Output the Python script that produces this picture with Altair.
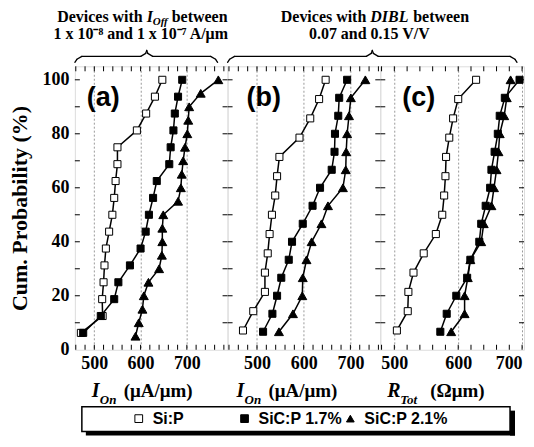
import altair as alt
import pandas as pd

SERIES = ["Si:P", "SiC:P 1.7%", "SiC:P 2.1%"]
SERIF = "Liberation Serif"
SANS = "Liberation Sans"

# cumulative probabilities (%)
P14 = [7.14, 14.29, 21.43, 28.57, 35.71, 42.86, 50.0, 57.14, 64.29, 71.43, 78.57, 85.71, 92.86, 100.0]
P15 = [6.67, 13.33, 20.0, 26.67, 33.33, 40.0, 46.67, 53.33, 60.0, 66.67, 73.33, 80.0, 86.67, 93.33, 100.0]
P16 = [6.25, 12.5, 18.75, 25.0, 31.25, 37.5, 43.75, 50.0, 56.25, 62.5, 68.75, 75.0, 81.25, 87.5, 93.75, 100.0]
P20 = [5, 10, 15, 20, 25, 30, 35, 40, 45, 50, 55, 60, 65, 70, 75, 80, 85, 90, 95, 100]

# panel (a): I_On, devices with I_Off in range
a_sip = [471, 518, 517, 520, 522, 525, 532, 539, 543, 546, 550, 550, 592, 612, 631, 647]
a_sic17 = [476, 514, 543, 552, 577, 600, 611, 618, 627, 635, 662, 665, 671, 674, 681, 690]
a_sic21 = [589, 596, 604, 607, 617, 640, 646, 647, 647, 649, 681, 687, 689, 692, 696, 701, 703, 705, 730, 768]

# panel (b): I_On, devices with DIBL in range
b_sip = [470, 492, 517, 517, 523, 527, 532, 539, 543, 548, 591, 614, 633, 647]
b_sic17 = [513, 533, 543, 552, 568, 575, 598, 619, 635, 660, 666, 667, 674, 676, 693]
b_sic21 = [547, 577, 597, 598, 606, 617, 638, 652, 684, 690, 691, 693, 697, 701, 732]

# panel (c): R_Tot, devices with DIBL in range
c_sip = [504, 521, 522, 530, 546, 565, 575, 578, 580, 581, 586, 592, 600, 628]
c_sic17 = [572, 582, 597, 614, 619, 633, 636, 643, 650, 652, 657, 662, 665, 673, 696]
c_sic21 = [589, 610, 610, 615, 619, 636, 640, 652, 656, 660, 663, 665, 672, 676, 682]

X_LABELS = [500, 600, 700]
Y_LABELS = [0, 20, 40, 60, 80, 100]
Y_TICKS = [10, 20, 30, 40, 50, 60, 70, 80, 90, 100]
A_TICKS = list(range(460, 781, 20))
B_TICKS = list(range(440, 761, 20))
C_TICKS = list(range(480, 701, 20))

H = 284
TL = 5
D = 3  # shift of elements below the plots


def frame(parts):
    rows = []
    for s, xs, ps in parts:
        for x, p in zip(xs, ps):
            rows.append({"x": x, "y": p, "s": s})
    return pd.DataFrame(rows)


ONE = pd.DataFrame({"k": [0]})


def txt(s, x, y, size, font=SERIF, style="normal", align="left", weight="bold"):
    return alt.Chart(pd.DataFrame({"t": [s]})).mark_text(
        align=align, baseline="alphabetic", font=font, fontSize=size,
        fontWeight=weight, fontStyle=style, color="black"
    ).encode(text="t:N", x=alt.value(x), y=alt.value(y))


def seg(x1, y1, x2, y2, w=1.3):
    return alt.Chart(ONE).mark_rule(color="black", strokeWidth=w, strokeCap="round").encode(
        x=alt.value(x1), y=alt.value(y1), x2=alt.value(x2), y2=alt.value(y2))


def strip(x1, x2, y1, y2):
    return alt.Chart(ONE).mark_rect(color="black").encode(
        x=alt.value(x1), x2=alt.value(x2), y=alt.value(y1), y2=alt.value(y2))


def brace(x0, x1, xm, ye=-4, yh=-10, yp=-16):
    return [
        seg(x0, ye, x0 + 2, yh + 3), seg(x0 + 2, yh + 3, x0 + 7, yh),
        seg(x0 + 7, yh, xm - 6, yh), seg(xm - 6, yh, xm - 1, yh - 3), seg(xm - 1, yh - 3, xm, yp),
        seg(xm, yp, xm + 1, yh - 3), seg(xm + 1, yh - 3, xm + 6, yh),
        seg(xm + 6, yh, x1 - 7, yh), seg(x1 - 7, yh, x1 - 2, yh + 3), seg(x1 - 2, yh + 3, x1, ye),
    ]


LEG = alt.Legend(
    title=None, orient="none", legendX=56, legendY=342 + D, direction="horizontal",
    columns=3, gridAlign="all", columnPadding=0, labelFont=SANS, labelFontSize=16,
    labelFontWeight="bold", labelColor="black", symbolSize=60, labelOffset=6, padding=0,
    symbolStrokeColor="black", symbolStrokeWidth=1,
)
shape_enc = alt.Shape("s:N", scale=alt.Scale(domain=SERIES, range=["square", "square", "triangle-up"]), legend=LEG)
fill_enc = alt.Fill("s:N", scale=alt.Scale(domain=SERIES, range=["white", "black", "black"]), legend=LEG)
stroke_enc = alt.Stroke("s:N", scale=alt.Scale(domain=SERIES, range=["black", "black", "black"]), legend=LEG)


def panel(df, dom, W, xticks, first, extras, flush=False):
    xax_args = dict(values=X_LABELS, grid=True, gridColor="#9a9a9a", gridDash=[2, 2], gridWidth=1,
                    ticks=False, domain=False, labelFont=SERIF, labelFontWeight="bold",
                    labelFontSize=18, labelColor="black", labelPadding=5,
                    labelOverlap=False, title=None)
    xax_args["labelFlush"] = 12 if flush else False
    xax = alt.Axis(**xax_args)
    xenc = alt.X("x:Q", scale=alt.Scale(domain=dom, nice=False, zero=False), axis=xax)
    if first:
        yax = alt.Axis(values=Y_LABELS, grid=False, ticks=False, domain=False, labelFont=SERIF,
                       labelFontWeight="bold", labelFontSize=18, labelColor="black", labelPadding=6,
                       title="Cum. Probability (%)", titleFont=SERIF, titleFontSize=22,
                       titleFontWeight="bold", titleColor="black", titlePadding=10)
    else:
        yax = None
    yenc = alt.Y("y:Q", scale=alt.Scale(domain=[0, 105], nice=False, zero=False), axis=yax)

    line = alt.Chart(df).mark_line(color="black", strokeWidth=1.5).encode(
        x=xenc, y=yenc, detail="s:N", order=alt.Order("y:Q"))
    sq = alt.Chart(df).transform_filter(alt.datum.s != SERIES[2]).mark_point(
        filled=True, opacity=1, strokeWidth=1, size=50).encode(
        x=xenc, y=yenc, shape=shape_enc, fill=fill_enc, stroke=stroke_enc)
    tri = alt.Chart(df).transform_filter(alt.datum.s == SERIES[2]).mark_point(
        filled=True, opacity=1, strokeWidth=1, size=80).encode(
        x=xenc, y=yenc, shape=shape_enc, fill=fill_enc, stroke=stroke_enc)

    xt = pd.DataFrame({"x": xticks})
    yt = pd.DataFrame({"y": Y_TICKS})
    tick_b = alt.Chart(xt).mark_rule(color="black", strokeWidth=1).encode(x=xenc, y=alt.value(H), y2=alt.value(H - TL))
    tick_t = alt.Chart(xt).mark_rule(color="black", strokeWidth=1).encode(x=xenc, y=alt.value(0), y2=alt.value(TL))
    tick_l = alt.Chart(yt).mark_rule(color="black", strokeWidth=1).encode(y=yenc, x=alt.value(0), x2=alt.value(TL))
    tick_r = alt.Chart(yt).mark_rule(color="black", strokeWidth=1).encode(y=yenc, x=alt.value(W), x2=alt.value(W - TL))

    return alt.layer(tick_b, tick_t, tick_l, tick_r, line, sq, tri, *extras).properties(width=W, height=H)


df_a = frame([(SERIES[0], a_sip, P16), (SERIES[1], a_sic17, P16), (SERIES[2], a_sic21, P20)])
df_b = frame([(SERIES[0], b_sip, P14), (SERIES[1], b_sic17, P15), (SERIES[2], b_sic21, P15)])
df_c = frame([(SERIES[0], c_sip, P14), (SERIES[1], c_sic17, P15), (SERIES[2], c_sic21, P15)])

# legend frame (outline + drop shadow) drawn as decoration
box = alt.Chart(ONE).mark_rect(fill="transparent", stroke="black", strokeWidth=1.5).encode(
    x=alt.value(7), x2=alt.value(436), y=alt.value(338 + D), y2=alt.value(363 + D))
shadow = [strip(11, 441, 363 + D, 367 + D), strip(436, 441, 342 + D, 367 + D)]

extras_a = [
    txt("(a)", 12, 40, 27, font=SANS),
    txt("I", 17, 328 + D, 20, style="italic"),
    txt("On", 25, 335 + D, 13, style="italic"),
    txt("(\u03bcA/\u03bcm)", 49, 328 + D, 19),
    txt("Devices with", 68, -44, 16, align="right"),
    txt("I", 72, -44, 16, style="italic"),
    txt("Off", 78, -41, 11, style="italic"),
    txt("between", 97, -44, 16),
    txt("1 x 10\u207b\u2078 and 1 x 10\u207b\u2077 A/\u03bcm", 66, -27, 16, align="center"),
    box,
] + shadow + brace(0, 143, 72)

extras_b = [
    txt("(b)", 19, 40, 27, font=SANS),
    txt("I", 9, 328 + D, 20, style="italic"),
    txt("On", 17, 335 + D, 13, style="italic"),
    txt("(\u03bcA/\u03bcm)", 41, 328 + D, 19),
    txt("Devices with", 139, -44, 16, align="right"),
    txt("DIBL", 143, -44, 16, style="italic"),
    txt("between", 186, -44, 16),
    txt("0.07 and 0.15 V/V", 142, -27, 16, align="center"),
] + brace(0, 290, 145)

extras_c = [
    txt("(c)", 22, 40, 27, font=SANS),
    txt("R", 7, 328 + D, 20, style="italic"),
    txt("Tot", 20, 335 + D, 13, style="italic"),
    txt("(\u03a9\u03bcm)", 50, 328 + D, 19),
]

pa = panel(df_a, [458, 788], 153, A_TICKS, True, extras_a)
pb = panel(df_b, [437, 764], 153, B_TICKS, False, extras_b)
pc = panel(df_c, [478, 703], 144, C_TICKS, False, extras_c, flush=True)

chart = alt.hconcat(pa, pb, pc, spacing=0, bounds="flush").resolve_scale(
    x="independent", y="independent", fill="shared", shape="shared", stroke="shared"
).properties(padding={"left": 0, "top": 0, "right": 0, "bottom": 0}).configure_view(
    stroke="black", strokeWidth=2
).configure(background="white")

chart.save("out.html", embed_options={"renderer": "svg", "actions": False})
